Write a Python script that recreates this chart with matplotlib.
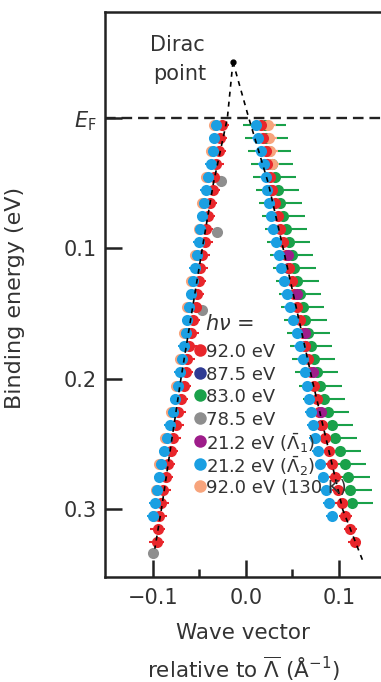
import matplotlib.pyplot as plt

# binding energies (eV) of the momentum distribution curve fits
E = [0.005, 0.015, 0.025, 0.035, 0.045, 0.055, 0.065, 0.075, 0.085, 0.095,
     0.105, 0.115, 0.125, 0.135, 0.145, 0.155, 0.165, 0.175, 0.185, 0.195,
     0.205, 0.215, 0.225, 0.235, 0.245, 0.255, 0.265, 0.275, 0.285, 0.295,
     0.305, 0.315, 0.325]

# 92.0 eV (red)
red_left = [-0.026, -0.028, -0.029, -0.032, -0.034, -0.036, -0.039, -0.041, -0.043, -0.044,
            -0.047, -0.049, -0.051, -0.053, -0.054, -0.057, -0.059, -0.061, -0.063, -0.065,
            -0.067, -0.070, -0.073, -0.075, -0.078, -0.081, -0.084, -0.086, -0.089, -0.091,
            -0.093, -0.095, -0.096]
red_right = [0.016, 0.018, 0.021, 0.023, 0.026, 0.028, 0.031, 0.034, 0.037, 0.040,
             0.043, 0.046, 0.049, 0.052, 0.055, 0.058, 0.061, 0.064, 0.067, 0.070,
             0.073, 0.076, 0.079, 0.082, 0.085, 0.089, 0.092, 0.096, 0.099, 0.103,
             0.107, 0.112, 0.117]

# 21.2 eV, second Lambda point (light blue)
E_blue = E[:31]
blue_left = [-0.032, -0.034, -0.036, -0.038, -0.041, -0.043, -0.045, -0.047, -0.049, -0.051,
             -0.053, -0.055, -0.057, -0.059, -0.061, -0.063, -0.065, -0.067, -0.069, -0.071,
             -0.073, -0.076, -0.079, -0.082, -0.085, -0.088, -0.091, -0.093, -0.096, -0.098,
             -0.100]
blue_right = [0.011, 0.013, 0.016, 0.019, 0.021, 0.023, 0.025, 0.027, 0.029, 0.032,
              0.035, 0.038, 0.041, 0.044, 0.047, 0.051, 0.055, 0.058, 0.061, 0.064,
              0.066, 0.068, 0.070, 0.072, 0.074, 0.077, 0.080, 0.083, 0.086, 0.089,
              0.092]

# 83.0 eV (green), right branch only
E_green = E[:30]
green_right = [0.020, 0.022, 0.025, 0.028, 0.031, 0.034, 0.037, 0.040, 0.043, 0.046,
               0.049, 0.052, 0.055, 0.058, 0.061, 0.064, 0.067, 0.070, 0.073, 0.076,
               0.080, 0.084, 0.088, 0.092, 0.096, 0.101, 0.106, 0.110, 0.112, 0.114]

# 78.5 eV (grey)
E_grey = [0.048, 0.087, 0.147, 0.333]
grey_left = [-0.027, -0.031, -0.047, -0.100]

# 92.0 eV at 130 K (peach)
E_peach = [0.005, 0.025, 0.045, 0.065, 0.085, 0.105, 0.125, 0.145, 0.165, 0.185,
           0.205, 0.225, 0.245, 0.265, 0.285, 0.305]
peach_left = [-0.034, -0.038, -0.043, -0.047, -0.051, -0.055, -0.059, -0.063, -0.067, -0.071,
              -0.075, -0.081, -0.087, -0.093, -0.097, -0.099]
E_peach_r = [0.005, 0.015, 0.025, 0.035]
peach_right = [0.024, 0.025, 0.026, 0.028]

# 21.2 eV, first Lambda point (purple)
E_purple = [0.105, 0.135, 0.165, 0.195, 0.225]
purple_right = [0.045, 0.055, 0.063, 0.072, 0.081]

# 87.5 eV (dark blue)
E_navy = [0.055, 0.115, 0.175, 0.235]
navy_right = [0.027, 0.045, 0.063, 0.081]

# dashed guides through the Dirac point
dirac = (-0.014, -0.043)
guide_left_k = [-0.014, -0.020, -0.035, -0.047, -0.070, -0.091, -0.098]
guide_left_E = [-0.043, 0.0, 0.05, 0.1, 0.2, 0.3, 0.33]
guide_right_k = [-0.014, 0.003, 0.024, 0.040, 0.071, 0.104, 0.126]
guide_right_E = [-0.043, 0.0, 0.05, 0.1, 0.2, 0.3, 0.34]

labels = ['92.0 eV', '87.5 eV', '83.0 eV', '78.5 eV',
          r'21.2 eV ($\bar{\Lambda}_1$)', r'21.2 eV ($\bar{\Lambda}_2$)',
          '92.0 eV (130 K)']
colors = ['#e8262b', '#2f3b93', '#1aa14a', '#8e8e8e', '#9e1d8a', '#1a9fe2', '#f7a47c']
RED, NAVY, GREEN, GREY, PURPLE, BLUE, PEACH = colors

plt.rcParams['font.family'] = ['DejaVu Sans']
plt.rcParams['mathtext.fontset'] = 'dejavusans'
txt = '#333333'

fig = plt.figure(figsize=(3.81, 6.82), dpi=100)
ax = fig.add_axes([0.2756, 0.154, 1.0 - 0.2756, 0.9824 - 0.154])

ekw = dict(fmt='o', ms=8, elinewidth=1.5, capsize=4, capthick=1.5, mew=0)

ax.errorbar(green_right, E_green, xerr=0.023, color=GREEN, **ekw)
ax.errorbar(peach_left, E_peach, xerr=0.005, color=PEACH, **ekw)
ax.errorbar(peach_right, E_peach_r, xerr=0.008, color=PEACH, **ekw)
ax.errorbar(navy_right, E_navy, xerr=0.004, color=NAVY, **ekw)
ax.errorbar(grey_left, E_grey, xerr=0.003, color=GREY, **ekw)
ax.errorbar(red_left, E, xerr=0.008, color=RED, **ekw)
ax.errorbar(red_right, E, xerr=0.007, color=RED, **ekw)
ax.errorbar(purple_right, E_purple, xerr=0.004, color=PURPLE, **ekw)
ax.errorbar(blue_left, E_blue, xerr=0.006, color=BLUE, **ekw)
ax.errorbar(blue_right, E_blue, xerr=0.006, color=BLUE, **ekw)

ax.plot(guide_left_k, guide_left_E, color='k', lw=1.2, ls=(0, (3, 3)), zorder=5)
ax.plot(guide_right_k, guide_right_E, color='k', lw=1.2, ls=(0, (3, 3)), zorder=5)
ax.plot(*dirac, 'o', color='k', ms=3.5, zorder=6)
ax.axhline(0, color='#222222', lw=1.7, ls=(0, (4.5, 2.5)), zorder=4)

ax.text(-0.103, -0.056, 'Dirac', fontsize=15, color=txt, va='center', ha='left')
ax.text(-0.100, -0.034, 'point', fontsize=15, color=txt, va='center', ha='left')

# legend drawn as a column in axes fractions
lx, ly, dy = 0.344, 0.402, 0.0403
ax.text(lx + 0.02, ly + 0.05, r'$h\nu$ =', transform=ax.transAxes, fontsize=15,
        color=txt, va='center_baseline', ha='left', zorder=10)
for i, (c, lab) in enumerate(zip(colors, labels)):
    ax.plot([lx], [ly - i * dy], 'o', ms=9, mew=0, color=c, transform=ax.transAxes,
            zorder=10, clip_on=False)
    ax.text(lx + 0.022, ly - i * dy, lab, transform=ax.transAxes, fontsize=13,
            color=txt, va='center_baseline', ha='left', zorder=10)

ax.set_xlim(-0.1516, 0.1452)
ax.set_ylim(0.3517, -0.0812)

ax.set_xticks([-0.1, 0.0, 0.1])
ax.set_xticklabels(['\u22120.1', '0.0', '0.1'])
ax.set_xticks([-0.05, 0.05], minor=True)
ax.set_yticks([0.0, 0.1, 0.2, 0.3])
ax.set_yticklabels([r'$E_\mathrm{F}$', '0.1', '0.2', '0.3'])
ax.tick_params(axis='both', which='major', direction='in', length=12, width=1.8,
               labelsize=15, colors='#222222', labelcolor=txt)
ax.tick_params(axis='x', which='major', pad=8)
ax.tick_params(axis='y', which='major', pad=6)
ax.tick_params(axis='x', which='minor', direction='in', length=6, width=1.8,
               colors='#222222')
for side in ['left', 'bottom', 'top']:
    ax.spines[side].set_linewidth(1.8)
    ax.spines[side].set_color('#222222')
ax.spines['right'].set_visible(False)

ax.set_ylabel('Binding energy (eV)', fontsize=16, color=txt)
ax.yaxis.set_label_coords(-0.29, 0.494)
ax.set_xlabel('Wave vector\n' + r'relative to $\overline{\Lambda}$ (Å$^{-1}$)',
              fontsize=15.5, color=txt, linespacing=1.5, labelpad=11)

fig.savefig('out.png', dpi=100)
